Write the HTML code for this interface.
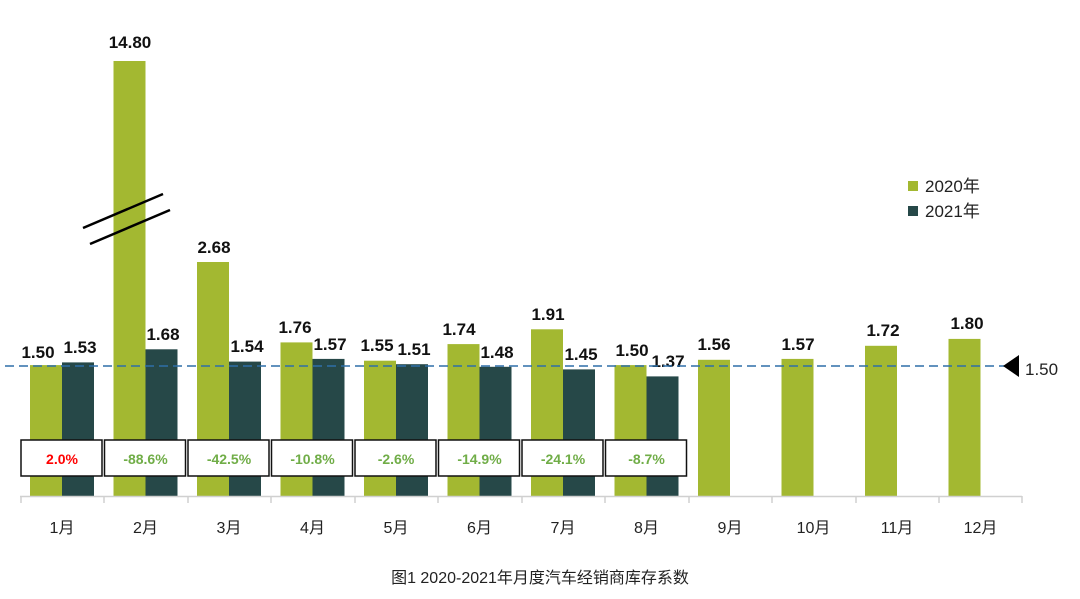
<!DOCTYPE html>
<html><head><meta charset="utf-8"><style>
body{margin:0;background:#fff;}
svg{display:block;font-family:"Liberation Sans","Noto Sans CJK SC",sans-serif;}
.v{font-size:17px;font-weight:bold;fill:#111;text-anchor:middle}
.m{font-size:16px;fill:#222;text-anchor:middle}
.p{font-size:14px;font-weight:bold;fill:#70ad47;text-anchor:middle}
.bx{fill:#fff;stroke:#111;stroke-width:1.5}
</style></head><body>
<svg width="1080" height="599" viewBox="0 0 1080 599" xmlns="http://www.w3.org/2000/svg">
<g fill="#a3b831">
<rect x="30" y="365.1" width="32" height="130.9"/>
<rect x="113.5" y="61" width="32" height="435"/>
<rect x="197" y="262" width="32" height="234"/>
<rect x="280.5" y="342.4" width="32" height="153.6"/>
<rect x="364" y="360.7" width="32" height="135.3"/>
<rect x="447.5" y="344.1" width="32" height="151.9"/>
<rect x="531" y="329.3" width="32" height="166.7"/>
<rect x="614.5" y="365.1" width="32" height="130.9"/>
<rect x="698" y="359.8" width="32" height="136.2"/>
<rect x="781.5" y="358.9" width="32" height="137.1"/>
<rect x="865" y="345.8" width="32" height="150.2"/>
<rect x="948.5" y="338.9" width="32" height="157.1"/>
</g>
<g fill="#264848">
<rect x="62" y="362.4" width="32" height="133.6"/>
<rect x="145.5" y="349.3" width="32" height="146.7"/>
<rect x="229" y="361.6" width="32" height="134.4"/>
<rect x="312.5" y="358.9" width="32" height="137.1"/>
<rect x="396" y="364.2" width="32" height="131.8"/>
<rect x="479.5" y="366.8" width="32" height="129.2"/>
<rect x="563" y="369.4" width="32" height="126.6"/>
<rect x="646.5" y="376.4" width="32" height="119.6"/>
</g>
<g>
<text class="v" x="38" y="358">1.50</text><text class="v" x="80" y="353">1.53</text>
<text class="v" x="130" y="48">14.80</text><text class="v" x="163" y="340">1.68</text>
<text class="v" x="214" y="253">2.68</text><text class="v" x="247" y="352">1.54</text>
<text class="v" x="295" y="333">1.76</text><text class="v" x="330" y="350">1.57</text>
<text class="v" x="377" y="351">1.55</text><text class="v" x="414" y="355">1.51</text>
<text class="v" x="459" y="335">1.74</text><text class="v" x="497" y="358">1.48</text>
<text class="v" x="548" y="320">1.91</text><text class="v" x="581" y="360">1.45</text>
<text class="v" x="632" y="356">1.50</text><text class="v" x="668" y="367">1.37</text>
<text class="v" x="714" y="350">1.56</text>
<text class="v" x="798" y="350">1.57</text>
<text class="v" x="883" y="336">1.72</text>
<text class="v" x="967" y="329">1.80</text>
</g>
<line x1="20" y1="496.5" x2="1022" y2="496.5" stroke="#d0d0d0" stroke-width="1.5"/>
<g stroke="#d0d0d0" stroke-width="1.5">
<line x1="21" y1="496" x2="21" y2="503"/><line x1="104" y1="496" x2="104" y2="503"/><line x1="188" y1="496" x2="188" y2="503"/><line x1="271" y1="496" x2="271" y2="503"/><line x1="355" y1="496" x2="355" y2="503"/><line x1="438" y1="496" x2="438" y2="503"/><line x1="522" y1="496" x2="522" y2="503"/><line x1="605" y1="496" x2="605" y2="503"/><line x1="689" y1="496" x2="689" y2="503"/><line x1="772" y1="496" x2="772" y2="503"/><line x1="856" y1="496" x2="856" y2="503"/><line x1="939" y1="496" x2="939" y2="503"/><line x1="1022" y1="496" x2="1022" y2="503"/>
</g>
<g>
<text class="m" x="62" y="533">1月</text><text class="m" x="145.5" y="533">2月</text><text class="m" x="229" y="533">3月</text><text class="m" x="312.5" y="533">4月</text><text class="m" x="396" y="533">5月</text><text class="m" x="479.5" y="533">6月</text><text class="m" x="563" y="533">7月</text><text class="m" x="646.5" y="533">8月</text><text class="m" x="730" y="533">9月</text><text class="m" x="813.5" y="533">10月</text><text class="m" x="897" y="533">11月</text><text class="m" x="980.5" y="533">12月</text>
</g>
<g>
<rect class="bx" x="21" y="440" width="81" height="36"/><text class="p" x="62" y="464" style="fill:#ff0000">2.0%</text>
<rect class="bx" x="104.5" y="440" width="81" height="36"/><text class="p" x="145.5" y="464">-88.6%</text>
<rect class="bx" x="188" y="440" width="81" height="36"/><text class="p" x="229" y="464">-42.5%</text>
<rect class="bx" x="271.5" y="440" width="81" height="36"/><text class="p" x="312.5" y="464">-10.8%</text>
<rect class="bx" x="355" y="440" width="81" height="36"/><text class="p" x="396" y="464">-2.6%</text>
<rect class="bx" x="438.5" y="440" width="81" height="36"/><text class="p" x="479.5" y="464">-14.9%</text>
<rect class="bx" x="522" y="440" width="81" height="36"/><text class="p" x="563" y="464">-24.1%</text>
<rect class="bx" x="605.5" y="440" width="81" height="36"/><text class="p" x="646.5" y="464">-8.7%</text>
</g>
<line x1="83" y1="228" x2="163" y2="194" stroke="#000" stroke-width="2.5"/>
<line x1="90" y1="244" x2="170" y2="210" stroke="#000" stroke-width="2.5"/>
<line x1="5" y1="366" x2="1005" y2="366" stroke="#2e6fa8" stroke-width="1.5" stroke-dasharray="9,5"/>
<polygon points="1003,366 1019,355 1019,377" fill="#000"/>
<text x="1025" y="375" font-size="17" fill="#222">1.50</text>
<rect x="908" y="181" width="10" height="10" fill="#a3b831"/>
<text x="925" y="192" font-size="17" fill="#222">2020年</text>
<rect x="908" y="206" width="10" height="10" fill="#264848"/>
<text x="925" y="217" font-size="17" fill="#222">2021年</text>
<text x="540" y="583" font-size="16" text-anchor="middle" fill="#222">图1  2020-2021年月度汽车经销商库存系数</text>
</svg>
</body></html>
